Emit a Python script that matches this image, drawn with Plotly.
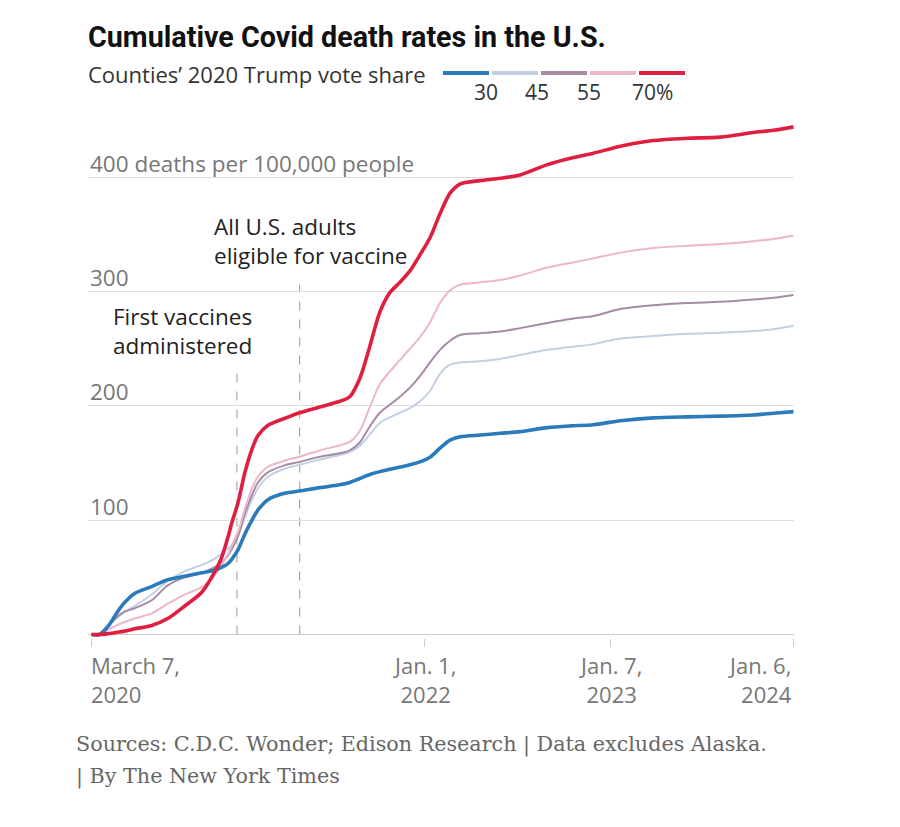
import plotly.graph_objects as go

# ---------------- data ----------------
dates = [
    "2020-03-07", "2020-03-23", "2020-04-12", "2020-04-28", "2020-05-12", "2020-06-01",
    "2020-07-05", "2020-08-06", "2020-09-09", "2020-10-13", "2020-11-08", "2020-11-22",
    "2020-12-04", "2020-12-12", "2020-12-24", "2021-01-07", "2021-01-21", "2021-02-02",
    "2021-02-22", "2021-03-27", "2021-04-26", "2021-06-05", "2021-07-15", "2021-08-04",
    "2021-08-24", "2021-09-13", "2021-10-03", "2021-10-23", "2021-11-12", "2021-12-02",
    "2021-12-22", "2022-01-11", "2022-01-31", "2022-02-20", "2022-03-12", "2022-04-21",
    "2022-05-31", "2022-07-10", "2022-09-02", "2022-10-18", "2022-12-03", "2023-01-26",
    "2023-04-01", "2023-06-08", "2023-08-13", "2023-10-18", "2023-11-27", "2024-01-06",
]

under30 = [0, 0, 9, 20, 28, 36, 42, 48, 51, 54, 56.5, 59, 62, 66, 74, 88, 100, 109,
           118, 123.5, 125.5, 128.5, 131, 133, 136.5, 140, 142.5, 144.5, 146.5, 148.5,
           151, 155, 163, 170, 173, 174.5, 176, 177.5, 181, 182.5, 183.5, 187, 189.5,
           190.4, 191, 192, 193.5, 195]
from30to45 = [0, 1, 9, 15, 20, 25, 35, 47, 55.5, 61, 66.5, 71, 75, 78, 86, 103, 118,
              128, 138, 145, 148.5, 153, 157, 159.5, 165, 175, 185, 190, 194, 198, 204,
              213, 228, 236, 238, 239, 241, 244.5, 249, 251.5, 254, 259, 261, 263, 264,
              265.5, 267, 270]
from45to55 = [0, 1, 9, 16, 20, 23, 30, 43, 50, 54, 59, 63, 69, 75, 86, 106, 122, 133,
              142, 148, 151, 155.5, 158.5, 161, 168, 182, 194, 201, 208, 216, 226, 238,
              249, 257, 262, 263.5, 265, 268, 272.5, 276, 278.6, 284.7, 288, 290, 291,
              293, 294.5, 297]
from55to70 = [0, 0.5, 5, 8.5, 11, 14, 18.5, 27, 35, 41.5, 52, 61, 70, 78, 90, 110,
              128, 138, 147, 152, 155.5, 161, 165.5, 168.5, 178, 199, 219, 230, 240, 250,
              260, 273, 290, 301, 306, 308, 310, 314, 321, 325, 329, 334, 338, 340,
              341.5, 344, 346, 349]
over70 = [0, 0, 1, 2, 3, 5, 8, 14, 25, 37, 55, 68, 85, 98, 115, 142, 162, 174, 183,
          189, 194, 199, 204, 208, 224, 252, 282, 299, 308, 318, 332, 347, 368, 386,
          394, 397, 399, 402, 411, 416.6, 421, 427, 432, 434, 435, 439, 441, 444]

series_names = ["Under 30%", "30–45%", "45–55%", "55–70%", "Over 70%"]
series_values = [under30, from30to45, from45to55, from55to70, over70]
series_colors = ["#2b7bba", "#c3d0e4", "#a68ba5", "#ecb6cb", "#e01f40"]
series_widths = [3.6, 2, 2, 2, 3.6]
draw_order = [1, 2, 3, 0, 4]

legend_labels = ["30", "45", "55", "70%"]

y_grid = [100, 200, 300, 400]
y_labels = ["100", "200", "300", "400 deaths per 100,000 people"]

x_ticks = ["2020-03-07", "2022-01-01", "2023-01-07", "2024-01-06"]
x_tick_text = ["March 7,<br>2020", "Jan. 1,<br>2022", "Jan. 7,<br>2023", "Jan. 6,<br>2024"]

events = [
    ("2020-12-22", 236, "First vaccines<br>administered"),
    ("2021-04-26", 306, "All U.S. adults<br>eligible for vaccine"),
]

# ---------------- layout geometry ----------------
W, H = 900, 827
ML, MR, MT, MB = 88, 106, 120, 189
PW, PH = W - ML - MR, H - MT - MB


def px(x):
    return (x - ML) / PW


def py(y):
    return (H - MB - y) / PH


SANS = "Open Sans, Roboto, sans-serif"
TITLE = "Roboto, Liberation Sans, sans-serif"
SERIF = "DejaVu Serif, Liberation Serif, serif"

fig = go.Figure()
for i in draw_order:
    fig.add_trace(go.Scatter(
        x=dates, y=series_values[i], mode="lines", name=series_names[i],
        line=dict(color=series_colors[i], width=series_widths[i], shape="spline", smoothing=0.8),
        hoverinfo="x+y+name", showlegend=False,
    ))

shapes = []
annotations = []

# event dashed lines
for d, top, txt in events:
    shapes.append(dict(type="line", xref="x", yref="y", x0=d, x1=d, y0=0, y1=top,
                       line=dict(color="#aaaaaa", width=1.2, dash="dash"), layer="below"))

annotations.append(dict(xref="paper", yref="paper", x=px(182), y=py(331), text=events[0][2],
                        showarrow=False, xanchor="center", yanchor="middle", align="center",
                        font=dict(family=SANS, size=22.5, color="#222")))
annotations.append(dict(xref="paper", yref="paper", x=px(212), y=py(241), text=events[1][2],
                        showarrow=False, xanchor="left", yanchor="middle", align="left",
                        font=dict(family=SANS, size=22.5, color="#222")))

# y labels above gridlines
for v, t in zip(y_grid, y_labels):
    annotations.append(dict(xref="paper", yref="y", x=0, y=v, text=t, showarrow=False,
                            xanchor="left", yanchor="middle", xshift=0, yshift=14,
                            font=dict(family=SANS, size=22.5, color="#777")))

# x tick labels
anchors = ["left", "center", "center", "right"]
for d, t, a in zip(x_ticks, x_tick_text, anchors):
    annotations.append(dict(xref="x", yref="paper", x=d, y=py(679), text=t, showarrow=False,
                            xanchor=a, yanchor="middle", align=a,
                            xshift=-3 if a == "left" else 0,
                            font=dict(family=SANS, size=22, color="#777")))

# title / subtitle
annotations.append(dict(xref="paper", yref="paper", x=px(86), y=py(37), text="<b>Cumulative Covid death rates in the U.S.</b>",
                        showarrow=False, xanchor="left", yanchor="middle",
                        font=dict(family=TITLE, size=28.7, color="#111")))
annotations.append(dict(xref="paper", yref="paper", x=px(86), y=py(74), text="Counties’ 2020 Trump vote share",
                        showarrow=False, xanchor="left", yanchor="middle",
                        font=dict(family=SANS, size=22, color="#333")))

# legend segments
seg_x = [443, 492, 541, 590, 639]
for i, x0 in enumerate(seg_x):
    shapes.append(dict(type="line", xref="paper", yref="paper", x0=px(x0), x1=px(x0 + 46),
                       y0=py(73), y1=py(73), line=dict(color=series_colors[i], width=4)))
lab_x = [486, 537, 589, 630]
for i, (x0, t) in enumerate(zip(lab_x, legend_labels)):
    annotations.append(dict(xref="paper", yref="paper", x=px(x0), y=py(92), text=t,
                            showarrow=False, xanchor="center" if i < 3 else "left",
                            yanchor="middle",
                            font=dict(family=SANS, size=21, color="#333")))

# source
annotations.append(dict(xref="paper", yref="paper", x=px(74), y=py(744),
                        text="Sources: C.D.C. Wonder; Edison Research | Data excludes Alaska.",
                        showarrow=False, xanchor="left", yanchor="middle",
                        font=dict(family=SERIF, size=20.7, color="#666")))
annotations.append(dict(xref="paper", yref="paper", x=px(74), y=py(776),
                        text="| By The New York Times",
                        showarrow=False, xanchor="left", yanchor="middle",
                        font=dict(family=SERIF, size=20.7, color="#666")))

fig.update_layout(
    width=W, height=H, margin=dict(l=ML, r=MR, t=MT, b=MB, pad=0),
    paper_bgcolor="white", plot_bgcolor="white",
    shapes=shapes, annotations=annotations, showlegend=False,
    xaxis=dict(type="date", range=["2020-02-29", "2024-01-07"], showgrid=False,
               zeroline=False, showline=False, tickvals=x_ticks, showticklabels=False,
               ticks="outside", ticklen=8, tickcolor="#cccccc", tickwidth=1, fixedrange=True),
    yaxis=dict(range=[-3, 450], tickvals=y_grid, showticklabels=False, showgrid=True,
               gridcolor="#dddddd", gridwidth=1, zeroline=True, zerolinecolor="#cccccc",
               zerolinewidth=1.2, showline=False, ticks="", fixedrange=True),
)

fig.write_html("out.html")
